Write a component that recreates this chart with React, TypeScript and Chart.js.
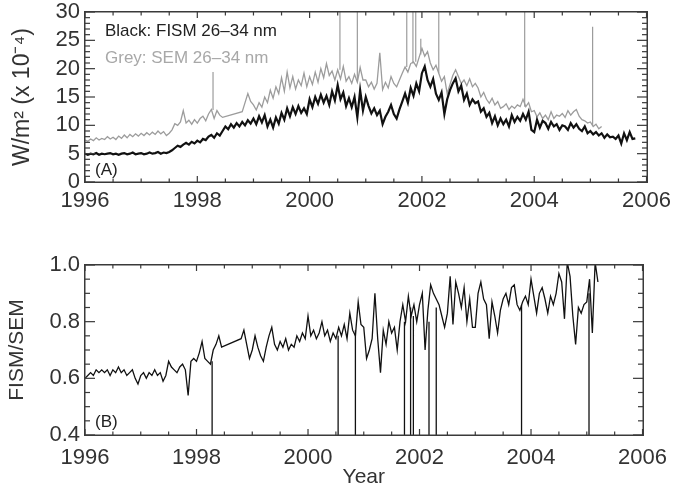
import React, { useEffect, useRef } from "react";
import { Chart, registerables } from "chart.js";

Chart.register(...registerables);

// ---------------- data ----------------
const START_YEAR = 1996;
const STEP = 0.05;

const xTickYears = [1996, 1998, 2000, 2002, 2004, 2006];
const topYTicks = [0, 5, 10, 15, 20, 25, 30];
const bottomYTicks = [0.4, 0.6, 0.8, 1.0];

// FISM 26-34 nm (x 1e-4 W/m^2), 1996.00 .. 2005.80 every 0.05 yr
const fismValues = [
  5.0, 4.8, 5.0, 4.9, 5.1, 4.8, 5.0, 4.9, 5.0, 5.1, 4.9, 5.0, 4.8, 5.0, 5.1, 4.9, 5.0, 5.2, 4.9, 5.0,
  5.1, 4.9, 5.0, 5.2, 5.0, 5.1, 5.3, 5.0, 5.2, 5.1, 5.3, 5.6, 6.0, 6.4, 6.2, 6.6, 6.9, 6.6, 7.1, 6.8,
  7.3, 7.0, 7.6, 7.4, 8.0, 8.3, 7.8, 8.6, 8.2, 9.0, 9.8, 9.3, 10.2, 9.6, 10.4, 9.8, 10.6, 10.0, 10.9, 10.3,
  11.2, 10.2, 11.6, 10.5, 11.8, 9.8, 11.0, 9.6, 11.4, 10.3, 12.2, 11.0, 13.0, 11.6, 13.2, 12.0, 13.4, 12.2, 13.0, 12.0,
  14.6, 13.2, 15.0, 13.8, 15.4, 14.0, 15.2, 13.6, 16.0, 14.4, 17.1, 14.6, 15.8, 13.4, 14.8, 13.2, 15.0, 11.4, 16.2, 12.6,
  15.0, 13.4, 12.1, 13.0, 11.8, 12.6, 10.2, 11.5, 12.4, 13.6, 12.0, 11.2, 12.8, 14.2, 15.6, 14.0, 16.6, 15.2, 17.4, 16.0,
  19.2, 20.4, 18.0, 16.8, 18.2, 15.6, 14.5, 15.8, 12.0, 14.6, 16.2, 17.4, 18.3, 16.0, 17.0, 14.5, 15.6, 13.6, 14.6, 13.9,
  14.2, 12.4, 13.0, 11.5, 12.2, 10.4, 11.6, 10.0, 11.2, 10.2, 11.0, 9.8, 11.8, 10.6, 11.5, 10.8, 12.0, 11.0, 12.4, 9.2,
  8.8, 11.0, 9.6, 10.8, 10.4, 9.4, 10.6, 9.8, 10.2, 9.2, 10.0, 9.8, 9.2, 10.4, 9.6, 10.2, 9.4, 9.0, 9.8, 8.6,
  9.0, 8.4, 8.8, 8.2, 8.6, 7.8, 8.4, 7.9, 8.0, 7.6, 8.2, 6.8, 8.6, 7.4, 8.8, 7.6, 7.7,
];

// SEM 26-34 nm, 1996.00 .. 2005.20 every 0.05 yr (null = no data)
const semValues = [
  7.4, 7.2, 7.6, 7.3, 7.8, 7.4, 7.7, 7.5, 8.0, 7.6, 7.9, 7.5, 8.1, 7.7, 8.3, 7.8, 8.4, 8.0, 8.5, 8.1,
  8.6, 8.2, 8.7, 8.3, 8.8, 8.4, 9.0, 8.5, 8.9, 8.2, 8.6, 9.2, 10.3, 10.0, 10.6, 12.6, 10.4, 10.9, 10.2, 11.0,
  10.4, 11.2, 11.6, 10.8, 12.0, 12.8, 11.2, 12.6, 11.8, 11.4, null, null, null, null, null, null, 12.4, 14.0, 15.6, 14.2,
  13.6, 12.7, 14.0, 13.2, 15.0, 14.0, 16.2, 14.8, 16.8, 15.6, 18.4, 16.0, 19.4, 16.6, 18.6, 16.4, 18.0, 17.0, 19.2, 16.8,
  18.6, 17.2, 19.4, 17.6, 20.0, 18.4, 20.9, 18.8, 19.6, 18.0, 19.8, 18.2, 20.4, 17.8, 18.6, 17.4, 19.0, 17.6, 20.2, 18.0,
  18.0, 16.8, 17.6, 16.4, 17.4, 22.8, 16.3, 17.6, 16.6, 18.6, 17.4, 16.8, 18.0, 19.2, 20.3, 19.4, 20.9, 21.2, 20.4, 22.0,
  23.6, 22.2, 23.0, 21.0, 19.8, 20.6, 19.2, 17.8, 18.6, 15.6, 17.2, 18.8, 19.8, 18.6, 17.4, 18.0, 17.0, 18.2, 16.8, 17.4,
  16.6, 15.0, 15.8, 14.6, 13.9, 14.8, 13.6, 14.2, 13.0, 13.3, 13.8, 12.8, 13.4, 13.0, 13.6, 13.3, 14.6, 13.3, 14.0, 12.4,
  12.6, 11.5, 12.2, 11.2, 11.8, 11.0, 12.4, 11.2, 11.8, 11.6, 12.1, 11.4, 12.6, 11.8, 12.4, 12.8, 11.6, 11.0, 10.8, 10.4,
  10.6, 9.8, 10.2, 9.4, 9.8,
];

// SEM flare spikes: time, level at foot, level at tip
const semSpikeYears = [1998.28, 2000.54, 2000.85, 2001.73, 2001.84, 2001.89, 2001.98, 2002.3, 2003.83, 2005.04];
const semSpikeBase = [12.7, 19.8, 17.8, 20.3, 20.9, 21.2, 22.5, 19.2, 13.3, 10.0];
const semSpikeTop = [19.4, 34, 34, 34, 34, 34, 25.3, 34, 34, 27.4];

// FISM/SEM ratio, 1996.00 .. 2005.20 every 0.05 yr
const ratioValues = [
  0.6, 0.61, 0.62, 0.61, 0.63, 0.62, 0.63, 0.62, 0.63, 0.61, 0.63, 0.62, 0.64, 0.62, 0.63, 0.61, 0.62, 0.63, 0.6, 0.58,
  0.61, 0.62, 0.6, 0.62, 0.61, 0.63, 0.61, 0.62, 0.59, 0.61, 0.66, 0.64, 0.63, 0.62, 0.64, 0.65, 0.63, 0.54, 0.66, 0.67,
  0.66, 0.69, 0.73, 0.67, 0.66, 0.65, 0.7, 0.72, 0.75, 0.71, null, null, null, null, null, null, 0.74, 0.77, 0.72, 0.67,
  0.7, 0.75, 0.71, 0.68, 0.66, 0.71, 0.75, 0.78, 0.72, 0.7, 0.73, 0.71, 0.74, 0.7, 0.72, 0.71, 0.75, 0.73, 0.76, 0.74,
  0.82, 0.75, 0.77, 0.74, 0.76, 0.8, 0.75, 0.77, 0.73, 0.76, 0.74, 0.78, 0.75, 0.79, 0.74, 0.83, 0.77, 0.75, 0.87, 0.79,
  0.78, 0.67, 0.7, 0.74, 0.9, 0.74, 0.62, 0.77, 0.72, 0.8, 0.76, 0.78, 0.7, 0.8, 0.86, 0.8, 0.89, 0.82, 0.86, 0.8,
  0.86, 0.9, 0.7, 0.84, 0.93, 0.9, 0.88, 0.86, 0.82, 0.78, 0.83, 0.96, 0.79, 0.94, 0.9, 0.85, 0.92, 0.8, 0.88, 0.78,
  0.78, 0.9, 0.94, 0.88, 0.86, 0.74, 0.87, 0.82, 0.76, 0.84, 0.88, 0.9, 0.86, 0.92, 0.93, 0.86, 0.84, 0.87, 0.89, 0.86,
  0.95, 0.89, 0.83, 0.9, 0.92, 0.88, 0.83, 0.89, 0.86, 0.9, 0.97, 0.94, 0.81, 1.01, 0.96, 0.82, 0.72, 0.85, 0.83, 0.86,
  0.87, 0.95, 0.76, 1.01, 0.94,
];

// ratio drop-outs at flare times: time, level at foot, level at tip
const ratioSpikeYears = [1998.28, 2000.54, 2000.85, 2001.73, 2001.84, 2001.89, 2002.17, 2002.3, 2003.83, 2005.04];
const ratioSpikeBase = [0.66, 0.75, 0.77, 0.8, 0.85, 0.82, 0.8, 0.85, 0.86, 0.9];
const ratioSpikeTip = [0.35, 0.35, 0.35, 0.35, 0.35, 0.35, 0.35, 0.35, 0.35, 0.35];

// ---------------- helpers ----------------
type Pt = { x: number; y: number | null };

function toPoints(values: (number | null)[]): Pt[] {
  return values.map((v, i) => ({ x: START_YEAR + i * STEP, y: v }));
}

function spikePoints(years: number[], base: number[], tip: number[]): Pt[] {
  const pts: Pt[] = [];
  years.forEach((x, i) => {
    pts.push({ x, y: base[i] });
    pts.push({ x, y: tip[i] });
    pts.push({ x, y: null });
  });
  return pts;
}

const FONT = '"Liberation Sans", Arial, sans-serif';
const TEXT = "#333";
const AXIS = "#3a3a3a";

type TextItem = { text: string; x: number; y: number; color: string; size: number };

function framePlugin(id: string, xMinor: number, xMajor: number, yMinor: number, yMajor: number, texts: TextItem[]) {
  return {
    id,
    afterDraw(chart: any) {
      const ctx: CanvasRenderingContext2D = chart.ctx;
      const a = chart.chartArea;
      const xs = chart.scales.x;
      const ys = chart.scales.y;
      const L = Math.round(a.left);
      const R = Math.round(a.right);
      const T = Math.round(a.top);
      const B = Math.round(a.bottom);
      ctx.save();
      // annotation texts
      for (const t of texts) {
        ctx.font = `${t.size}px ${FONT}`;
        ctx.fillStyle = t.color;
        ctx.textAlign = "left";
        ctx.textBaseline = "middle";
        ctx.fillText(t.text, t.x, t.y);
      }
      ctx.fillStyle = AXIS;
      // frame
      ctx.fillRect(L - 1, T - 1, R - L + 2, 1.5);
      ctx.fillRect(L - 1, B - 0.5, R - L + 2, 1.5);
      ctx.fillRect(L - 1, T - 1, 1.5, B - T + 2);
      ctx.fillRect(R - 0.5, T - 1, 1.5, B - T + 2);
      // x ticks (inward, top and bottom)
      const nx = Math.round((xs.max - xs.min) / xMinor);
      for (let k = 0; k <= nx; k++) {
        const v = xs.min + k * xMinor;
        const px = xs.getPixelForValue(v);
        const len = Math.abs(v / xMajor - Math.round(v / xMajor)) < 1e-6 ? 6 : 3.5;
        ctx.fillRect(px - 0.6, B - len, 1.2, len);
        ctx.fillRect(px - 0.6, T, 1.2, len);
      }
      // y ticks (inward, left and right)
      const ny = Math.round((ys.max - ys.min) / yMinor);
      for (let k = 0; k <= ny; k++) {
        const v = ys.min + k * yMinor;
        const py = ys.getPixelForValue(v);
        const r = (v - ys.min) / yMajor;
        const len = Math.abs(r - Math.round(r)) < 1e-6 ? 10 : 5;
        ctx.fillRect(L, py - 0.6, len, 1.2);
        ctx.fillRect(R - len, py - 0.6, len, 1.2);
      }
      ctx.restore();
    },
  };
}

function xScale(height: number, pad: number, withTitle: boolean) {
  return {
    type: "linear" as const,
    min: 1996,
    max: 2006,
    afterBuildTicks: (s: any) => {
      s.ticks = xTickYears.map((v) => ({ value: v }));
    },
    afterFit: (s: any) => {
      s.height = height;
    },
    grid: { display: false, drawTicks: false, tickLength: 0 },
    border: { display: false },
    ticks: {
      autoSkip: false,
      maxRotation: 0,
      padding: pad,
      color: TEXT,
      font: { family: FONT, size: 22, lineHeight: 1.2 },
      callback: (v: any) => String(v),
    },
    title: withTitle
      ? { display: true, text: "Year", color: TEXT, font: { family: FONT, size: 21 }, padding: { top: 0, bottom: 5 } }
      : { display: false },
  };
}

function yScale(min: number, max: number, tickVals: number[], digits: number, title: string, titleSize: number, titlePad: number) {
  return {
    min,
    max,
    afterBuildTicks: (s: any) => {
      s.ticks = tickVals.map((v) => ({ value: v }));
    },
    afterFit: (s: any) => {
      s.width = 85;
    },
    grid: { display: false, drawTicks: false, tickLength: 0 },
    border: { display: false },
    ticks: {
      autoSkip: false,
      padding: 5,
      color: TEXT,
      font: { family: FONT, size: 22, lineHeight: 1.0 },
      callback: (v: any) => Number(v).toFixed(digits),
    },
    title: {
      display: true,
      text: title,
      color: TEXT,
      font: { family: FONT, size: titleSize },
      padding: { top: titlePad, bottom: 0 },
    },
  };
}

export default function App() {
  const topRef = useRef<HTMLCanvasElement>(null);
  const botRef = useRef<HTMLCanvasElement>(null);

  useEffect(() => {
    const top = new Chart(topRef.current as HTMLCanvasElement, {
      type: "line",
      data: {
        datasets: [
          {
            data: toPoints(fismValues) as any,
            borderColor: "#111",
            borderWidth: 2.2,
            pointRadius: 0,
            tension: 0,
            order: 1,
          },
          {
            data: toPoints(semValues) as any,
            borderColor: "#9c9c9c",
            borderWidth: 1.3,
            pointRadius: 0,
            tension: 0,
            spanGaps: true,
            order: 2,
          },
          {
            data: spikePoints(semSpikeYears, semSpikeBase, semSpikeTop) as any,
            borderColor: "#9c9c9c",
            borderWidth: 1.2,
            pointRadius: 0,
            tension: 0,
            spanGaps: false,
            order: 3,
          },
        ],
      },
      options: {
        responsive: false,
        animation: false,
        devicePixelRatio: 1,
        layout: { padding: { top: 12, right: 27, left: 0, bottom: 0 } },
        plugins: { legend: { display: false }, tooltip: { enabled: false } },
        scales: {
          x: xScale(38, 6, false) as any,
          y: yScale(0, 30, topYTicks, 0, "W/m² (x 10⁻⁴)", 23, 9) as any,
        },
      },
      plugins: [
        framePlugin("frameTop", 0.5, 2, 1, 5, [
          { text: "Black: FISM 26–34 nm", x: 105, y: 35, color: "#222", size: 17 },
          { text: "Grey: SEM 26–34 nm", x: 105, y: 62, color: "#a8a8a8", size: 17 },
          { text: "(A)", x: 95, y: 174, color: "#222", size: 17 },
        ]),
      ],
    });

    const bottom = new Chart(botRef.current as HTMLCanvasElement, {
      type: "line",
      data: {
        datasets: [
          {
            data: toPoints(ratioValues) as any,
            borderColor: "#111",
            borderWidth: 1.3,
            pointRadius: 0,
            tension: 0,
            spanGaps: true,
          },
          {
            data: spikePoints(ratioSpikeYears, ratioSpikeBase, ratioSpikeTip) as any,
            borderColor: "#111",
            borderWidth: 1.3,
            pointRadius: 0,
            tension: 0,
            spanGaps: false,
          },
        ],
      },
      options: {
        responsive: false,
        animation: false,
        devicePixelRatio: 1,
        layout: { padding: { top: 45, right: 27, left: 0, bottom: 0 } },
        plugins: { legend: { display: false }, tooltip: { enabled: false } },
        scales: {
          x: xScale(60, 10, true) as any,
          y: yScale(0.4, 1.0, bottomYTicks, 1, "FISM/SEM", 21, 5) as any,
        },
      },
      plugins: [framePlugin("frameBottom", 0.5, 2, 0.05, 0.2, [{ text: "(B)", x: 95, y: 202, color: "#222", size: 17 }])],
    });

    return () => {
      top.destroy();
      bottom.destroy();
    };
  }, []);

  return (
    <div style={{ position: "fixed", left: 0, top: 0, width: 674, height: 495, background: "#fff", overflow: "hidden" }}>
      <canvas ref={topRef} width={677} height={224} style={{ position: "absolute", left: 0, top: -4 }} />
      <canvas ref={botRef} width={677} height={275} style={{ position: "absolute", left: 0, top: 220 }} />
    </div>
  );
}
